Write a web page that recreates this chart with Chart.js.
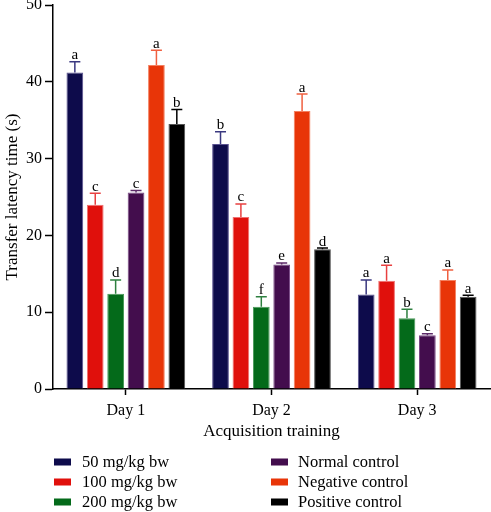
<!DOCTYPE html>
<html>
<head>
<meta charset="utf-8">
<script src="https://cdn.jsdelivr.net/npm/chart.js@4/dist/chart.umd.min.js"></script>
<style>
  html, body { margin: 0; padding: 0; background: #fff; }
  #wrap { width: 491px; height: 512px; position: relative; }
</style>
</head>
<body>
<div id="wrap"><canvas id="myChart"></canvas></div>
<script>
const days = ['Day 1', 'Day 2', 'Day 3'];
const groups = ['50 mg/kg bw', '100 mg/kg bw', '200 mg/kg bw', 'Normal control', 'Negative control', 'Positive control'];

// mean values per group
const dose50 = [41.2, 31.9, 12.3];
const dose100 = [24.0, 22.4, 14.1];
const dose200 = [12.4, 10.7, 9.2];
const normalCtrl = [25.6, 16.2, 7.0];
const negativeCtrl = [42.2, 36.2, 14.2];
const positiveCtrl = [34.5, 18.2, 12.0];

// error (upper bar only)
const err50 = [1.4, 1.6, 1.9];
const err100 = [1.5, 1.7, 2.0];
const err200 = [1.8, 1.3, 1.2];
const errNormal = [0.25, 0.2, 0.2];
const errNegative = [1.9, 2.2, 1.3];
const errPositive = [1.9, 0.15, 0.2];

// significance letters
const sig50 = ['a', 'b', 'a'];
const sig100 = ['c', 'c', 'a'];
const sig200 = ['d', 'f', 'b'];
const sigNormal = ['c', 'e', 'c'];
const sigNegative = ['a', 'a', 'a'];
const sigPositive = ['b', 'd', 'a'];

const fills = ['#0d0b4b', '#e0100c', '#046a1a', '#430d4d', '#e83508', '#000000'];
const edges = ['#5a5290', '#f07070', '#4a9a5a', '#7a4a86', '#f38060', '#555555'];
const whiskers = ['#3a3880', '#e84040', '#2e8040', '#5c2a68', '#f06040', '#000000'];

const values = [dose50, dose100, dose200, normalCtrl, negativeCtrl, positiveCtrl];
const errors = [err50, err100, err200, errNormal, errNegative, errPositive];
const letters = [sig50, sig100, sig200, sigNormal, sigNegative, sigPositive];

const serif = "'Liberation Serif', 'DejaVu Serif', serif";

const errorBars = {
    id: 'errorBars',
    afterDatasetsDraw(chart) {
        const ctx = chart.ctx;
        const y = chart.scales.y;
        chart.data.datasets.forEach((ds, i) => {
            const meta = chart.getDatasetMeta(i);
            meta.data.forEach((bar, j) => {
                const top = y.getPixelForValue(ds.data[j] + errors[i][j]);
                ctx.save();
                ctx.strokeStyle = whiskers[i];
                ctx.lineWidth = 1.5;
                ctx.beginPath();
                ctx.moveTo(bar.x, bar.y);
                ctx.lineTo(bar.x, top);
                ctx.moveTo(bar.x - 5.5, top);
                ctx.lineTo(bar.x + 5.5, top);
                ctx.stroke();
                ctx.fillStyle = '#000';
                ctx.font = '15px ' + serif;
                ctx.textAlign = 'center';
                ctx.textBaseline = 'bottom';
                ctx.fillText(letters[i][j], bar.x, top + 1);
                ctx.restore();
            });
        });
    }
};

// two-column legend, filled column by column
const sideLegend = {
    id: 'sideLegend',
    afterDraw(chart) {
        const ctx = chart.ctx;
        const boxX = [54, 271];
        const textX = [82, 298];
        const rowY = [462, 482, 502];
        ctx.save();
        ctx.font = '16.5px ' + serif;
        ctx.textBaseline = 'middle';
        chart.data.datasets.forEach((ds, i) => {
            const col = Math.floor(i / 3);
            const row = i % 3;
            ctx.fillStyle = fills[i];
            ctx.fillRect(boxX[col], rowY[row] - 3.5, 17, 7);
            ctx.fillStyle = '#000';
            ctx.fillText(ds.label, textX[col], rowY[row] + 1);
        });
        ctx.restore();
    }
};

const chartDemo = new Chart(document.getElementById('myChart'), {
    type: 'bar',
    data: {
        labels: days,
        datasets: groups.map((g, i) => ({
            label: g,
            data: values[i],
            backgroundColor: fills[i],
            borderColor: edges[i],
            borderWidth: 1,
            categoryPercentage: 0.84,
            barPercentage: 0.82
        }))
    },
    options: {
        responsive: true,
        maintainAspectRatio: false,
        animation: false,
        layout: { padding: { left: 2, right: 1, top: 0, bottom: 70 } },
        plugins: {
            legend: { display: false },
            tooltip: { enabled: false }
        },
        scales: {
            x: {
                grid: { display: true, drawOnChartArea: false, offset: false, tickLength: 6, color: '#000', tickWidth: 1.5 },
                border: { display: true, color: '#000', width: 1.5 },
                ticks: { color: '#000', font: { family: serif, size: 16 }, padding: 6 },
                title: { display: true, text: 'Acquisition training', color: '#000', font: { family: serif, size: 17 }, padding: { top: 0, bottom: 0 } },
                afterFit(scale) { scale.height = 53; }
            },
            y: {
                min: 0,
                max: 50,
                ticks: { stepSize: 10, color: '#000', font: { family: serif, size: 16 }, padding: 3 },
                grid: { display: true, drawOnChartArea: false, tickLength: 8, color: '#000', tickWidth: 1.5 },
                border: { display: true, color: '#000', width: 1.5 },
                title: { display: true, text: 'Transfer latency time (s)', color: '#000', font: { family: serif, size: 17 }, padding: { top: 0, bottom: 2 } },
                afterFit(scale) { scale.width = 51; scale.paddingTop = 5; }
            }
        }
    },
    plugins: [errorBars, sideLegend]
});
</script>
</body>
</html>
